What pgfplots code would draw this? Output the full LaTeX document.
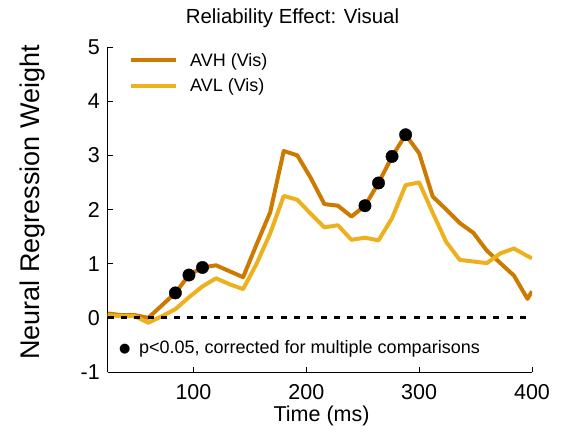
\documentclass[border=0pt]{standalone}
\usepackage{pgfplots}
\pgfplotsset{compat=1.18}
\usepackage{pgfplotstable}
\usepackage{fontspec}
\setmainfont{Liberation Sans}
\newfontfamily\symfont{DejaVu Sans}
\definecolor{avh}{RGB}{204,122,0}
\definecolor{avl}{RGB}{237,177,32}
\pgfplotstableread{
x avh avl
24 0.08 0.05
36 0.05 0.03
48 0.05 0.03
60 0.00 -0.09
72 0.23 0.03
84 0.46 0.16
96 0.79 0.38
108 0.93 0.58
120 0.97 0.73
132 0.86 0.62
144 0.75 0.53
156 1.36 1.00
168 1.95 1.56
180 3.08 2.25
192 3.00 2.18
204 2.58 1.92
216 2.10 1.67
228 2.07 1.71
240 1.87 1.44
252 2.07 1.48
264 2.49 1.43
276 2.98 1.84
288 3.38 2.45
300 3.04 2.50
312 2.24 1.94
324 2.00 1.40
336 1.75 1.07
348 1.57 1.04
360 1.24 1.01
372 1.01 1.19
384 0.78 1.28
396 0.35 1.14
400 0.49 1.10
}\datatable
\pgfplotstableread{
x y
84 0.46
96 0.79
108 0.93
252 2.07
264 2.49
276 2.98
288 3.38
}\sigtable
\begin{document}
\begin{tikzpicture}
\begin{axis}[
  scale only axis,
  width=424.3bp, height=325bp,
  xmin=24, xmax=400, ymin=-1, ymax=5,
  xtick={100,200,300,400}, ytick={-1,0,1,2,3,4,5},
  axis x line=bottom, axis y line=left,
  axis line style={-, line width=0.8bp},
  tick align=inside, major tick length=5bp,
  tick style={black, line width=0.8bp},
  /pgf/number format/assume math mode=true,
  tick label style={font=\fontsize{21.5bp}{24bp}\selectfont},
  yticklabel style={inner sep=0pt, xshift=-7.7bp, anchor=east},
  xticklabel style={inner sep=0pt, yshift=-12.3bp, anchor=north},
  title={Reliability Effect: Visual},
  title style={font=\fontsize{20.4bp}{24bp}\selectfont, at={(axis description cs:0.4355,1)}, anchor=base, yshift=17.7bp, inner sep=0pt},
  xlabel={Time (ms)},
  xlabel style={font=\fontsize{21.5bp}{24bp}\selectfont, at={(axis description cs:0.504,0)}, anchor=base, yshift=-49bp, inner sep=0pt},
  ylabel={Neural Regression Weight},
  ylabel style={font=\fontsize{27bp}{30bp}\selectfont, at={(axis description cs:0,0.5215)}, anchor=base, yshift=67.7bp, inner sep=0pt},
  legend cell align=left,
  legend image code/.code={\draw[#1] (0bp,0bp) -- (45bp,0bp);},
  legend style={draw=none, fill=none, at={(axis description cs:0.050,1)}, anchor=north west, yshift=-6bp,
    font=\fontsize{18bp}{20bp}\selectfont, row sep=11bp, column sep=12bp, inner sep=0pt, nodes={inner sep=0pt}},
  clip=true,
]
\addplot[avh, line width=4bp, line join=round] table[x=x, y=avh] {\datatable};
\addlegendentry{AVH (Vis)}
\addplot[avl, line width=4bp, line join=round] table[x=x, y=avl] {\datatable};
\addlegendentry{AVL (Vis)}
\addplot[black, line width=3bp, dash pattern=on 6bp off 7.3bp, forget plot] coordinates {(24,0) (400,0)};
\addplot[only marks, mark=*, mark size=6.2bp, black, forget plot] table[x=x, y=y] {\sigtable};
\node[anchor=base west, inner sep=0pt, font=\fontsize{18bp}{20bp}\selectfont] at (axis cs:51.7,-0.651) {p<0.05, corrected for multiple comparisons};
\node[anchor=center, inner sep=0pt, font=\symfont\fontsize{13bp}{14bp}\selectfont] at (axis cs:39.2,-0.577) {●};
\end{axis}
\pgfresetboundingbox
\path[use as bounding box] (-107.7bp,-63bp) rectangle (463.3bp,372bp);
\end{tikzpicture}
\end{document}
